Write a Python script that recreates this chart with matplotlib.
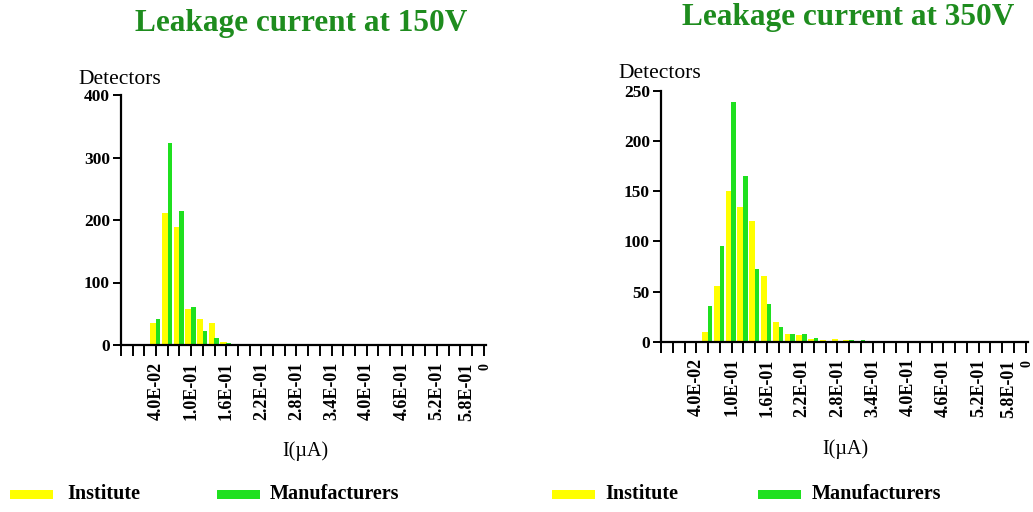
import matplotlib.pyplot as plt
import matplotlib.transforms as mtransforms
import numpy as np

# bin currents (uA), 0.02 uA steps
bins_150 = [0.04, 0.06, 0.08, 0.10, 0.12, 0.14, 0.16, 0.18, 0.20, 0.24]
inst_150 = [35, 212, 189, 57, 42, 35, 5, 2, 1, 1]
manu_150 = [42, 323, 215, 61, 23, 12, 4, 2, 0, 0]

bins_350 = [0.06, 0.08, 0.10, 0.12, 0.14, 0.16, 0.18, 0.20, 0.22, 0.24,
            0.26, 0.28, 0.30, 0.32, 0.34]
inst_350 = [10, 56, 150, 134, 120, 66, 20, 8, 7, 3, 2, 3, 2, 1, 1]
manu_350 = [36, 95, 239, 165, 72, 38, 15, 8, 8, 4, 1, 1, 2, 2, 0]

tick_vals = [-0.02 + 0.02 * i for i in range(32)]
label_vals = [0.04, 0.10, 0.16, 0.22, 0.28, 0.34, 0.40, 0.46, 0.52]

YELLOW = '#ffff00'
GREEN = '#1fe01f'
TITLE_GREEN = '#1e8c1e'
SERIF = 'Liberation Serif'

W, H = 1033, 512


def px(x0, y_top, w, h):
    return [x0 / W, 1 - (y_top + h) / H, w / W, h / H]


def draw(ax, bins, inst, manu, ymax, ystep):
    bins = np.array(bins)
    ax.bar(bins - 0.0048, inst, width=0.0104, color=YELLOW, linewidth=0)
    ax.bar(bins + 0.0036, manu, width=0.0076, color=GREEN, linewidth=0)
    ax.set_xlim(-0.02, 0.604)
    ax.set_ylim(0, ymax)
    for s in ['top', 'right']:
        ax.spines[s].set_visible(False)
    for s in ['left', 'bottom']:
        ax.spines[s].set_linewidth(1.6)
    labels = []
    for v in tick_vals:
        hit = [l for l in label_vals if abs(l - v) < 1e-6]
        labels.append('{:.1E}'.format(hit[0]) if hit else '')
    ax.set_xticks(tick_vals)
    ax.set_xticklabels(labels, rotation=90, fontfamily=SERIF,
                       fontweight='bold', fontsize=13)
    ax.tick_params(axis='x', direction='out', length=8, width=1.4, pad=4)

    # last two labels sit squeezed at the end of the axis
    trans = mtransforms.blended_transform_factory(ax.transData, ax.transAxes)
    off = mtransforms.offset_copy(trans, fig=ax.figure, y=-13, units='points')
    ax.text(0.571, 0, '5.8E-01', transform=off, rotation=90, ha='center',
            va='top', fontfamily=SERIF, fontweight='bold', fontsize=13)
    ax.text(0.603, 0, '0', transform=off, rotation=90, ha='center',
            va='top', fontfamily=SERIF, fontweight='bold', fontsize=10)

    ax.set_yticks(np.arange(0, ymax + 1, ystep))
    ax.set_yticklabels([str(int(v)) for v in np.arange(0, ymax + 1, ystep)],
                       fontfamily=SERIF, fontweight='bold', fontsize=12.5)
    ax.tick_params(axis='y', direction='out', length=6, width=1.4, pad=2)


fig = plt.figure(figsize=(10.33, 5.12), dpi=100)

ax1 = fig.add_axes(px(121, 95, 365, 250))
draw(ax1, bins_150, inst_150, manu_150, 400, 100)
ax2 = fig.add_axes(px(661, 91, 367, 250.7))
draw(ax2, bins_350, inst_350, manu_350, 250, 50)

fig.text(301 / W, 1 - 23 / H, 'Leakage current at 150V', ha='center',
         va='center', color=TITLE_GREEN, fontfamily=SERIF,
         fontweight='bold', fontsize=22.5)
fig.text(848 / W, 1 - 17 / H, 'Leakage current at 350V', ha='center',
         va='center', color=TITLE_GREEN, fontfamily=SERIF,
         fontweight='bold', fontsize=22.5)

fig.text(78 / W, 1 - 79 / H, 'Detectors', ha='left', va='center',
         fontfamily=SERIF, fontsize=15.5)
fig.text(618 / W, 1 - 73 / H, 'Detectors', ha='left', va='center',
         fontfamily=SERIF, fontsize=15.5)
fig.text(305 / W, 1 - 451 / H, 'I(\u00b5A)', ha='center', va='center',
         fontfamily=SERIF, fontsize=14.5)
fig.text(845 / W, 1 - 449 / H, 'I(\u00b5A)', ha='center', va='center',
         fontfamily=SERIF, fontsize=14.5)

# legends drawn as swatch + label
for x_sw, x_txt, col, name in [(10, 67, YELLOW, 'Institute'),
                               (217, 270, GREEN, 'Manufacturers'),
                               (552, 605, YELLOW, 'Institute'),
                               (758, 812, GREEN, 'Manufacturers')]:
    sw = fig.add_axes(px(x_sw, 490, 43, 9))
    sw.axis('off')
    sw.add_patch(plt.Rectangle((0, 0), 1, 1, color=col,
                               transform=sw.transAxes))
    fig.text(x_txt / W, 1 - 494 / H, name, ha='left', va='center',
             fontfamily=SERIF, fontweight='bold', fontsize=14.5)

fig.savefig('out.png', dpi=100, facecolor='white')
